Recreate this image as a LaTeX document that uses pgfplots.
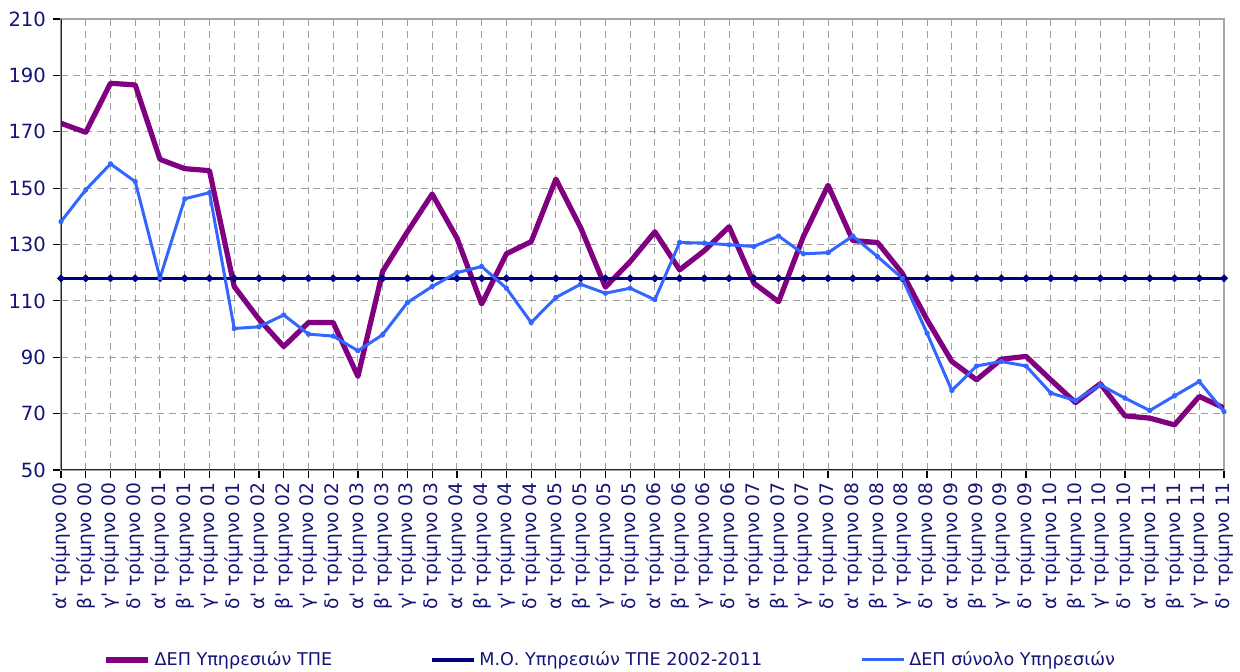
\documentclass[border=0pt]{standalone}
\usepackage{fontspec}
\setmainfont{DejaVu Sans}
\usepackage{pgfplots}
\pgfplotsset{compat=1.18}
\definecolor{cpurple}{RGB}{128,0,128}
\definecolor{cnavy}{RGB}{0,0,128}
\definecolor{cblue}{RGB}{51,102,255}
\definecolor{ctext}{RGB}{20,20,120}
\newcommand\T[2]{#1\textquotesingle{} τρίμηνο #2}
\begin{document}
\begin{tikzpicture}
\begin{axis}[
  scale only axis, width=581.5pt, height=225.5pt,
  xmin=0, xmax=47, ymin=50, ymax=210,
  ytick={50,70,...,210},
  xtick={0,...,47},
  xticklabels={\T{α}{00},\T{β}{00},\T{γ}{00},\T{δ}{00},
    \T{α}{01},\T{β}{01},\T{γ}{01},\T{δ}{01},
    \T{α}{02},\T{β}{02},\T{γ}{02},\T{δ}{02},
    \T{α}{03},\T{β}{03},\T{γ}{03},\T{δ}{03},
    \T{α}{04},\T{β}{04},\T{γ}{04},\T{δ}{04},
    \T{α}{05},\T{β}{05},\T{γ}{05},\T{δ}{05},
    \T{α}{06},\T{β}{06},\T{γ}{06},\T{δ}{06},
    \T{α}{07},\T{β}{07},\T{γ}{07},\T{δ}{07},
    \T{α}{08},\T{β}{08},\T{γ}{08},\T{δ}{08},
    \T{α}{09},\T{β}{09},\T{γ}{09},\T{δ}{09},
    \T{α}{10},\T{β}{10},\T{γ}{10},\T{δ}{10},
    \T{α}{11},\T{β}{11},\T{γ}{11},\T{δ}{11}},
  xticklabel style={rotate=90, anchor=east, font=\fontsize{9.3}{10}\selectfont, text=ctext, inner sep=2pt},
  yticklabel style={font=\fontsize{9.8}{11}\selectfont, text=ctext},
  /pgf/number format/assume math mode=true,
  grid=major,
  major grid style={gray!75, dash pattern=on 3.5pt off 2.5pt, line width=0.5pt},
  axis line style={gray!70, line width=0.8pt},
  tick align=outside, major tick length=4pt,
  tick style={black, line width=0.6pt},
  xtick pos=bottom, ytick pos=left,
  legend columns=3,
  legend style={at={(rel axis cs:0,0)}, anchor=west, xshift=21pt, yshift=-95pt,
    draw=none, fill=none, inner sep=0pt, font=\fontsize{8.8}{10}\selectfont, text=ctext,
    /tikz/every even column/.append style={column sep=47pt}},
  legend cell align=left,
  legend image code/.code={\draw[#1] (0pt,0pt) -- (21pt,0pt);},
]
\addplot[cpurple, line width=2.6pt, line join=round] coordinates {
(0,173)(1,169.8)(2,187.2)(3,186.6)(4,160.2)(5,156.9)(6,156.2)(7,115.1)
(8,103.5)(9,93.8)(10,102.3)(11,102.3)(12,83.2)(13,120.5)(14,134.5)(15,147.9)
(16,132.3)(17,108.9)(18,126.7)(19,131)(20,153.2)(21,136)(22,114.9)(23,123.9)
(24,134.5)(25,121)(26,127.8)(27,136.3)(28,116.3)(29,109.7)(30,132.8)(31,151)
(32,131.4)(33,130.7)(34,119.8)(35,103.3)(36,88.5)(37,82)(38,89.3)(39,90.3)
(40,82)(41,73.9)(42,80.6)(43,69.2)(44,68.4)(45,66)(46,76.1)(47,72)};
\addlegendentry{ΔΕΠ Υπηρεσιών ΤΠΕ}
\addplot[cnavy, line width=1.6pt, mark=*, mark size=0.9pt] coordinates {
(0,118)(1,118)(2,118)(3,118)(4,118)(5,118)(6,118)(7,118)
(8,118)(9,118)(10,118)(11,118)(12,118)(13,118)(14,118)(15,118)
(16,118)(17,118)(18,118)(19,118)(20,118)(21,118)(22,118)(23,118)
(24,118)(25,118)(26,118)(27,118)(28,118)(29,118)(30,118)(31,118)
(32,118)(33,118)(34,118)(35,118)(36,118)(37,118)(38,118)(39,118)
(40,118)(41,118)(42,118)(43,118)(44,118)(45,118)(46,118)(47,118)};
\addlegendentry{Μ.Ο. Υπηρεσιών ΤΠΕ 2002-2011}
\addplot[cblue, line width=1.5pt, line join=round, mark=*, mark size=0.7pt] coordinates {
(0,138.1)(1,149.4)(2,158.6)(3,152.3)(4,118.1)(5,146.2)(6,148.4)(7,100.2)
(8,100.8)(9,105)(10,98.2)(11,97.5)(12,92.3)(13,98)(14,109.4)(15,115.1)
(16,120)(17,122.2)(18,114.5)(19,102.3)(20,111.2)(21,115.9)(22,112.7)(23,114.5)
(24,110.4)(25,130.7)(26,130.5)(27,129.9)(28,129.3)(29,133)(30,126.7)(31,127.1)
(32,133)(33,125.7)(34,118)(35,98.5)(36,78.2)(37,86.9)(38,88.5)(39,86.9)
(40,77.3)(41,74.6)(42,80.2)(43,75.5)(44,71.1)(45,76.3)(46,81.4)(47,70.7)};
\addlegendentry{ΔΕΠ σύνολο Υπηρεσιών}
\draw[black!85, line width=0.8pt] (rel axis cs:0,1) -- (rel axis cs:0,0) -- (rel axis cs:1,0);
\end{axis}
\pgfresetboundingbox
\path (-30.5pt,-101pt) rectangle (589.5pt,235pt);
\end{tikzpicture}
\end{document}
